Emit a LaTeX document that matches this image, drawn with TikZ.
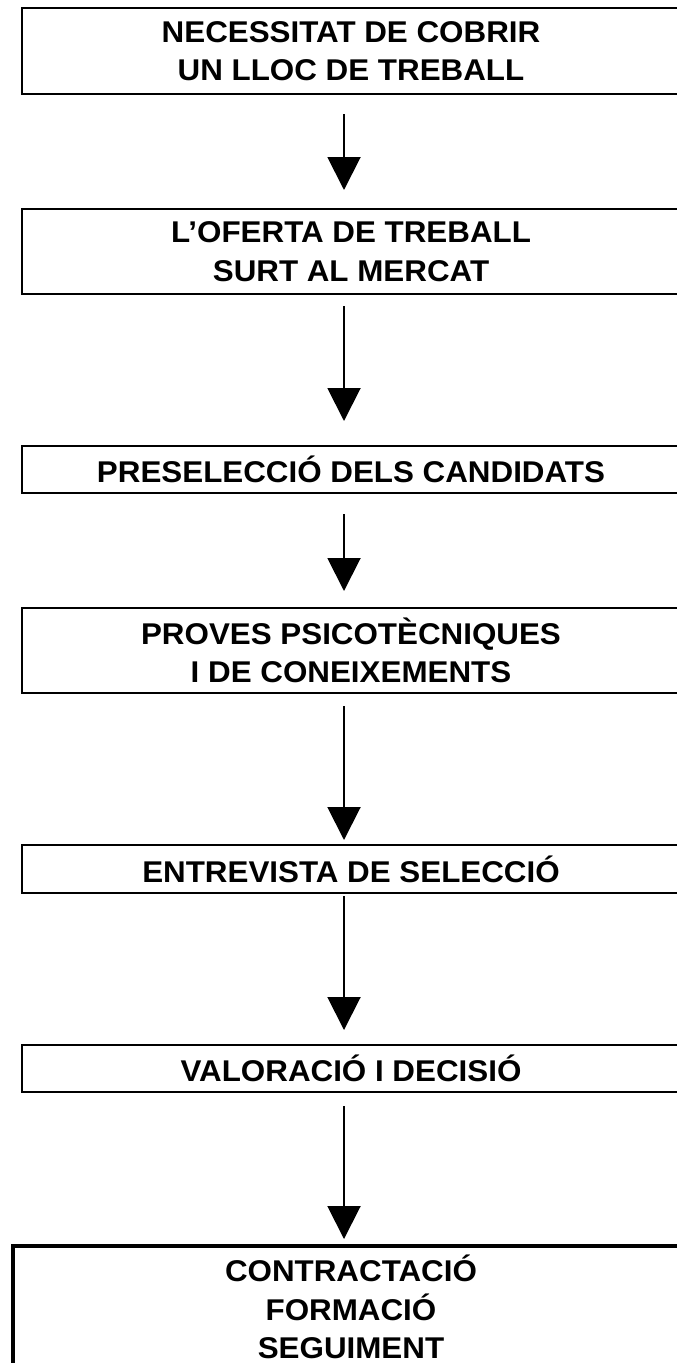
\documentclass[tikz,border=0pt]{standalone}
\usepackage{fontspec}
\newfontfamily\stagefont[FakeStretch=1.045]{Liberation Sans}
\usetikzlibrary{arrows.meta}

\tikzset{
  stage/.style={draw, line width=2.2pt, outer sep=0pt, minimum width=658pt, inner sep=2pt,
    align=center, font=\stagefont\bfseries\fontsize{30}{38.5}\selectfont},
  laststage/.style={stage, line width=4pt, minimum width=676pt},
  flow/.style={line width=2pt, -{Triangle[width=33pt,length=33pt]}}
}

\begin{document}
\begin{tikzpicture}[x=1pt, y=-1pt]
        \useasboundingbox (0,0) rectangle (677,1363);
        \clip (0,0) rectangle (677,1363);

        \node[stage, minimum height=86pt] (need) at (351, 51)        {NECESSITAT DE COBRIR\\UN LLOC DE TREBALL};
        \node[stage, minimum height=85pt] (offer) at (351, 251.5)    {L’OFERTA DE TREBALL\\SURT AL MERCAT};
        \node[stage, minimum height=47pt] (presel) at (351, 469.5)   {PRESELECCIÓ DELS CANDIDATS};
        \node[stage, minimum height=85pt] (tests) at (351, 650.5)    {PROVES PSICOTÈCNIQUES\\I DE CONEIXEMENTS};
        \node[stage, minimum height=48pt] (interview) at (351, 869)  {ENTREVISTA DE SELECCIÓ};
        \node[stage, minimum height=47pt] (decision) at (351, 1068.5) {VALORACIÓ I DECISIÓ};
        % last box runs off the page
        \node[laststage, anchor=north, inner ysep=9pt] (hiring) at (351, 1246) {CONTRACTACIÓ\\FORMACIÓ\\SEGUIMENT};


        \draw[flow, shorten <=20pt, shorten >=19pt] ([xshift=-7pt]need.south) -- ([xshift=-7pt]offer.north);
        \draw[flow, shorten <=12pt, shorten >=25pt] ([xshift=-7pt]offer.south) -- ([xshift=-7pt]presel.north);
        \draw[flow, shorten <=21pt, shorten >=17pt] ([xshift=-7pt]presel.south) -- ([xshift=-7pt]tests.north);
        \draw[flow, shorten <=13pt, shorten >=5pt] ([xshift=-7pt]tests.south) -- ([xshift=-7pt]interview.north);
        \draw[flow, shorten <=3pt, shorten >=15pt] ([xshift=-7pt]interview.south) -- ([xshift=-7pt]decision.north);
        \draw[flow, shorten <=14pt, shorten >=7pt] ([xshift=-7pt]decision.south) -- ([xshift=-7pt]hiring.north);
    \end{tikzpicture}
\end{document}
